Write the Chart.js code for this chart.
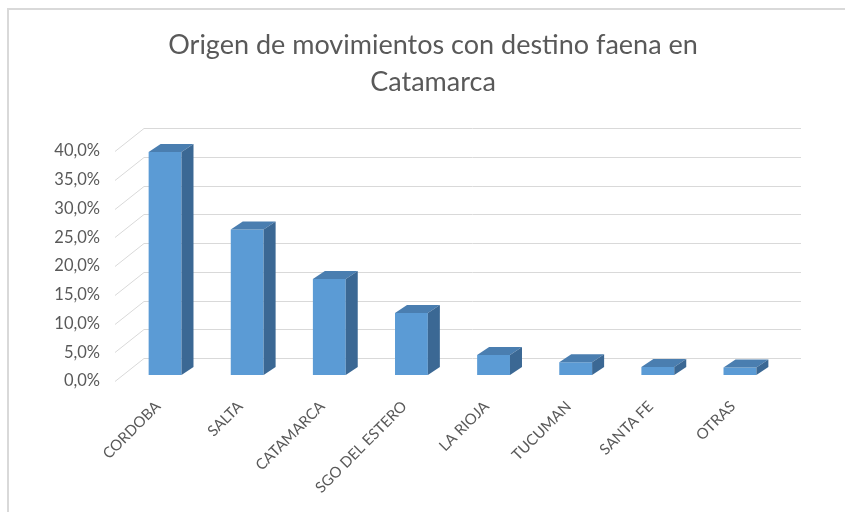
<!DOCTYPE html>
<html>
<head>
<meta charset="utf-8">
<script src="https://cdn.jsdelivr.net/npm/chart.js@4/dist/chart.umd.min.js"></script>
<style>
  html, body { margin: 0; padding: 0; background: #ffffff; }
  #wrap { position: relative; width: 845px; height: 512px; }
</style>
</head>
<body>
<div id="wrap"><canvas id="c" width="845" height="512"></canvas></div>
<script>
const categories = ['CORDOBA', 'SALTA', 'CATAMARCA', 'SGO DEL ESTERO', 'LA RIOJA', 'TUCUMAN', 'SANTA FE', 'OTRAS'];
const shares = [0.388, 0.253, 0.167, 0.108, 0.035, 0.022, 0.014, 0.013];
const tickValues = [0, 0.05, 0.10, 0.15, 0.20, 0.25, 0.30, 0.35, 0.40];
const titleLines = ['Origen de movimientos con destino faena en', 'Catamarca'];

const FONT = 'Lato, "Open Sans", sans-serif';
const TEXT = '#595959';
const GRID = '#d9d9d9';
const BAR_FRONT = '#5b9bd5';
const BAR_TOP = '#4a7eb0';
const BAR_SIDE = '#3b6894';

// 3D geometry (pixels)
const WALL_DX = 29, WALL_DY = -23;   // front axis -> back wall
const BAR_DX = 12, BAR_DY = -8;      // bar depth
const FRONT_OFF = -9;                // front diagonal start relative to chart area left
const WALL_RIGHT = 801;
const LABEL_SHIFT = 6 / 575;         // label plane sits slightly in front of the bars

const fmt = v => (v * 100).toFixed(1).replace('.', ',') + '%';

const frame = {
  id: 'frame',
  beforeDraw(chart) {
    const ctx = chart.ctx;
    ctx.save();
    ctx.strokeStyle = GRID;
    ctx.lineWidth = 2;
    ctx.beginPath();
    ctx.moveTo(8, 512);
    ctx.lineTo(8, 9);
    ctx.lineTo(845, 9);
    ctx.stroke();
    ctx.restore();
  },
  beforeDatasetsDraw(chart) {
    const ctx = chart.ctx;
    const yl = chart.scales.yl;
    const x0 = chart.chartArea.left + FRONT_OFF;
    ctx.save();
    ctx.strokeStyle = GRID;
    ctx.lineWidth = 1;
    tickValues.forEach(v => {
      const y = Math.round(yl.getPixelForValue(v)) + 0.5;
      ctx.beginPath();
      ctx.moveTo(x0, y);
      ctx.lineTo(x0 + WALL_DX, y + WALL_DY);
      ctx.lineTo(WALL_RIGHT, y + WALL_DY);
      ctx.stroke();
    });
    ctx.restore();
  },
  afterDatasetsDraw(chart) {
    const ctx = chart.ctx;
    const meta = chart.getDatasetMeta(0);
    ctx.save();
    meta.data.forEach(bar => {
      const p = bar.getProps(['x', 'y', 'base', 'width'], true);
      const l = p.x - p.width / 2, r = p.x + p.width / 2;
      const t = p.y, b = p.base;
      ctx.fillStyle = BAR_TOP;
      ctx.beginPath();
      ctx.moveTo(l, t);
      ctx.lineTo(l + BAR_DX, t + BAR_DY);
      ctx.lineTo(r + BAR_DX, t + BAR_DY);
      ctx.lineTo(r, t);
      ctx.closePath();
      ctx.fill();
      ctx.fillStyle = BAR_SIDE;
      ctx.beginPath();
      ctx.moveTo(r, t);
      ctx.lineTo(r + BAR_DX, t + BAR_DY);
      ctx.lineTo(r + BAR_DX, b + BAR_DY);
      ctx.lineTo(r, b);
      ctx.closePath();
      ctx.fill();
    });
    ctx.restore();
  }
};

new Chart(document.getElementById('c'), {
  type: 'bar',
  data: {
    labels: categories,
    datasets: [{
      data: shares,
      backgroundColor: BAR_FRONT,
      borderWidth: 0,
      categoryPercentage: 1,
      barPercentage: 0.4,
      yAxisID: 'y'
    }]
  },
  options: {
    responsive: false,
    animation: false,
    devicePixelRatio: 1,
    layout: { padding: { top: 20, right: 0, bottom: 0, left: 21 } },
    plugins: {
      legend: { display: false },
      tooltip: { enabled: false },
      title: {
        display: true,
        text: titleLines,
        color: TEXT,
        font: { family: FONT, size: 27, weight: 'normal', lineHeight: 37 / 27 },
        padding: { top: 6.5, bottom: 33 }
      }
    },
    scales: {
      x: {
        grid: { display: false, drawTicks: false },
        border: { display: false },
        afterFit: axis => { axis.height = 125.5; },
        ticks: {
          minRotation: 45, maxRotation: 45,
          color: TEXT,
          font: { family: FONT, size: 15 },
          padding: 11,
          labelOffset: -7
        }
      },
      y: {
        position: 'right',
        min: -0.02, max: 0.42,
        grid: { display: false, drawTicks: false },
        border: { display: false },
        ticks: { display: false },
        afterFit: axis => { axis.width = 64; }
      },
      yl: {
        position: 'left',
        min: -0.02 + LABEL_SHIFT, max: 0.42 + LABEL_SHIFT,
        grid: { display: false, drawTicks: false },
        border: { display: false },
        afterBuildTicks: axis => { axis.ticks = tickValues.map(v => ({ value: v })); },
        afterFit: axis => { axis.width = 103; },
        ticks: {
          color: TEXT,
          font: { family: FONT, size: 16.5 },
          padding: 24,
          callback: v => fmt(v)
        }
      }
    }
  },
  plugins: [frame]
});
</script>
</body>
</html>
